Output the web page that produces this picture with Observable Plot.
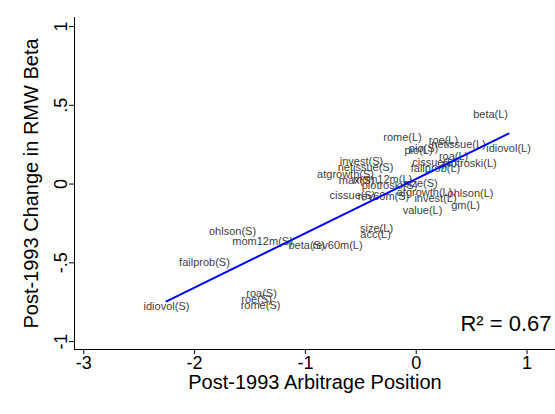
<!DOCTYPE html>
<html>
<head>
<meta charset="utf-8">
<script src="https://cdn.jsdelivr.net/npm/d3@7"></script>
<script src="https://cdn.jsdelivr.net/npm/@observablehq/plot@0.6"></script>
<style>
  body { margin: 0; background: #fff; font-family: "Liberation Sans", Arial, sans-serif; }
</style>
</head>
<body>
<div id="chart"></div>
<script>
// anomaly legs
const labels = [
  "beta(L)", "rome(L)", "roe(L)", "netissue(L)", "pio(L)", "pio(S)", "idiovol(L)", "roa(L)",
  "cissue(L)", "piotroski(L)", "failprob(L)", "invest(S)", "netissue(S)", "atgrowth(S)", "max(S)",
  "mom12m(L)", "piotroski(S)", "size(S)", "cissue(S)", "rev60m(S)", "atgrowth(L)", "ohlson(L)",
  "invest(L)", "gm(L)", "value(L)", "size(L)", "acc(L)", "rev60m(L)", "beta(S)", "mom12m(S)",
  "ohlson(S)", "failprob(S)", "roa(S)", "roe(S)", "rome(S)", "idiovol(S)"
];
const arbPos = [
  0.671, -0.124, 0.246, 0.382, 0.021, 0.066, 0.833, 0.337,
  0.165, 0.481, 0.174, -0.494, -0.458, -0.638, -0.539,
  -0.304, -0.241, 0.039, -0.575, -0.295, 0.075, 0.490,
  0.174, 0.445, 0.057, -0.358, -0.367, -0.710, -0.990, -1.387,
  -1.658, -1.911, -1.396, -1.441, -1.405, -2.254
];
const betaChg = [
  0.444, 0.298, 0.279, 0.254, 0.216, 0.228, 0.228, 0.178,
  0.140, 0.133, 0.102, 0.146, 0.108, 0.063, 0.025,
  0.032, -0.006, 0.006, -0.070, -0.076, -0.051, -0.057,
  -0.089, -0.133, -0.165, -0.279, -0.317, -0.387, -0.387, -0.362,
  -0.298, -0.495, -0.692, -0.730, -0.768, -0.780
];
const xTicks = [-3, -2, -1, 0, 1];
const yTicks = [-1, -0.5, 0, 0.5, 1];
const xDomain = [-3.084, 1.257];
const yDomain = [-1.05, 1.057];
const r2Label = "R² = 0.67";
const xTitle = "Post-1993 Arbitrage Position";
const yTitle = "Post-1993 Change in RMW Beta";

const pts = labels.map((l, i) => ({label: l, x: arbPos[i], y: betaChg[i]}));

// stata style: ".5", "-.5"
const fmtY = d => d === 0 ? "0" : String(d).replace("0.", ".");

const chart = Plot.plot({
  width: 555,
  height: 414,
  marginLeft: 74,
  marginRight: 0,
  marginTop: 17,
  marginBottom: 65,
  style: {fontFamily: "'Liberation Sans', Arial, sans-serif", background: "#fff", color: "#000"},
  x: {domain: xDomain},
  y: {domain: yDomain},
  marks: [
    Plot.ruleX([xDomain[0]], {stroke: "#000", strokeWidth: 1}),
    Plot.ruleY([yDomain[0]], {stroke: "#000", strokeWidth: 1}),
    Plot.axisX({ticks: xTicks, tickFormat: d => String(d), fontSize: 18, tickSize: 5, tickPadding: 2, label: null, stroke: "#000"}),
    Plot.axisY({ticks: yTicks, tickFormat: fmtY, tickRotate: -90, fontSize: 18, tickSize: 5, tickPadding: 3, label: null, stroke: "#000"}),
    Plot.text(pts, {x: "x", y: "y", text: "label", fontSize: 11, fill: "#404040"}),
    Plot.linearRegressionY(pts, {x: "x", y: "y", stroke: "#0000ff", strokeWidth: 2, ci: 0}),
    Plot.text([r2Label], {frameAnchor: "bottom-right", text: d => d, dx: -4, dy: -19, fontSize: 22, fill: "#000"}),
    Plot.text([xTitle], {frameAnchor: "bottom", text: d => d, dy: 39, fontSize: 20, fill: "#000"}),
    Plot.text([yTitle], {frameAnchor: "left", textAnchor: "middle", text: d => d, dx: -43, rotate: -90, fontSize: 20, fill: "#000"})
  ]
});

d3.select("#chart").append(() => chart);
</script>
</body>
</html>
